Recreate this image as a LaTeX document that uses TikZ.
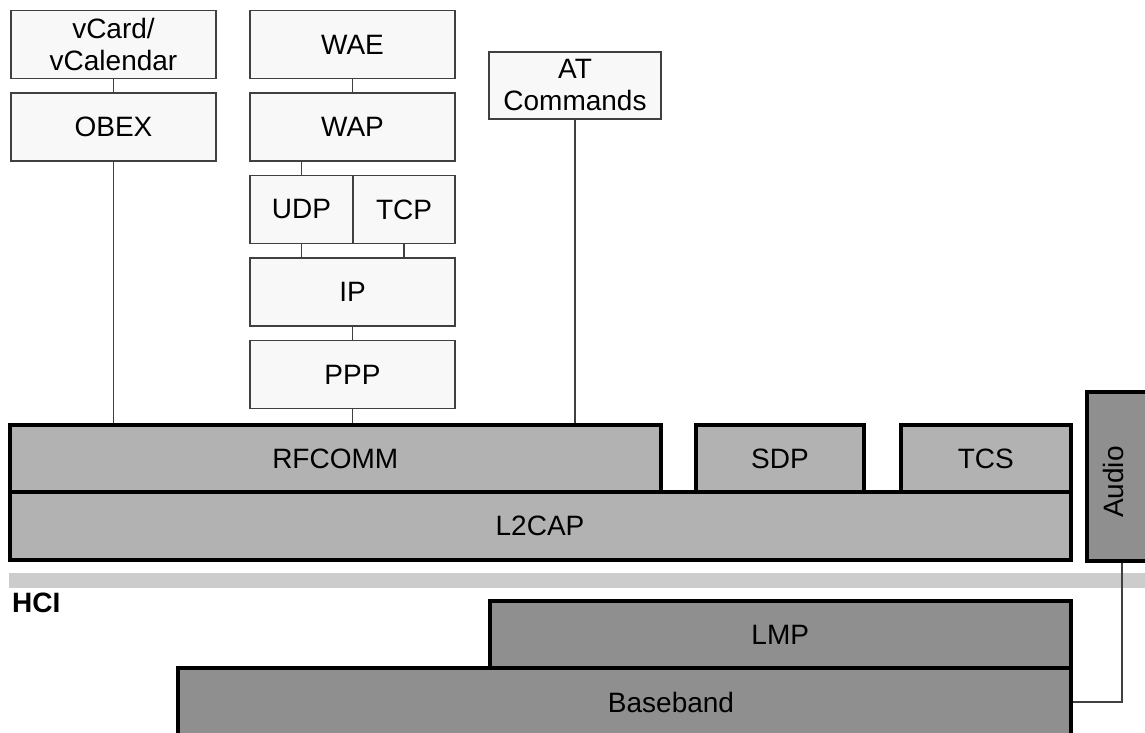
\documentclass[tikz,border=0pt]{standalone}
\usepackage{fontspec}
\setmainfont{Liberation Sans}
\usetikzlibrary{calc}
\definecolor{lightbox}{HTML}{F8F8F8}
\definecolor{midgray}{HTML}{B2B2B2}
\definecolor{deepgray}{HTML}{8F8F8F}
\definecolor{hcibar}{HTML}{CCCCCC}
\definecolor{thinline}{HTML}{404040}
\begin{document}
\begin{tikzpicture}[x=1pt,y=-1pt,
  txt/.style={font=\fontsize{28}{32}\selectfont},
  upper/.style={txt, draw=thinline, line width=1.2pt, fill=lightbox, minimum width=205pt, minimum height=68pt, inner sep=0pt, align=center},
  core/.style={txt, draw=black, line width=4pt, fill=midgray, inner sep=0pt},
  lower/.style={core, fill=deepgray},
  link/.style={draw=thinline, line width=1.1pt}]
\useasboundingbox (0,0) rectangle (1145,733);
\clip (0,0) rectangle (1145,733);

% HCI bar
\fill[hcibar] (9,573) rectangle (1145,588);
\node[txt, font=\fontsize{28}{32}\selectfont\bfseries, anchor=base west, inner sep=0pt] (hci) at (12,612) {HCI};

% upper stack
\node[upper] (vcard) at (113.5,44.5) {vCard/\\vCalendar};
\node[upper] (obex) at (113.5,127) {OBEX};
\node[upper] (wae) at (352.5,44.5) {WAE};
\node[upper] (wap) at (352.5,127) {WAP};
\node[upper, minimum width=103pt] (udp) at (301.5,209.5) {UDP};
\node[upper, minimum width=102pt] (tcp) at (404,209.5) {TCP};
\node[upper] (ip) at (352.5,292) {IP};
\node[upper] (ppp) at (352.5,374.5) {PPP};
\node[upper, minimum width=172pt, minimum height=67pt] (at) at (575,85.5) {AT\\Commands};

% core layers
\node[core, minimum width=651.5pt, minimum height=67pt] (rfcomm) at (335.25,458.5) {RFCOMM};
\node[core, minimum width=1061pt, minimum height=68pt] (l2cap) at (540,526) {L2CAP};
\node[core, minimum width=168pt, minimum height=67pt] (sdp) at (780,458.5) {SDP};
\node[core, minimum width=169.5pt, minimum height=67pt] (tcs) at (985.75,458.5) {TCS};
\node[lower, minimum width=70pt, minimum height=169pt] (audio) at (1122,476.5) {};
\node[txt, rotate=90, inner sep=0pt] (audiotext) at (1113,482) {Audio};
\node[lower, minimum width=580.5pt, minimum height=67pt] (lmp) at (780.25,634.5) {LMP};
\node[lower, minimum width=892.5pt, minimum height=68pt] (baseband) at (624.25,702) {};
\node[txt, inner sep=0pt] (bbtext) at (671,702) {Baseband};

% connectors
\draw[link] (vcard) -- (obex);
\draw[link] (obex.south) -- (obex.south |- rfcomm.north);
\draw[link] (wae) -- (wap);
\draw[link] (udp.north) -- (udp.north |- wap.south);
\draw[link] (udp.south) -- (udp.south |- ip.north);
\draw[link] (tcp.south) -- (tcp.south |- ip.north);
\draw[link] (ip) -- (ppp);
\draw[link] (ppp.south) -- (ppp.south |- rfcomm.north);
\draw[link] (at.south) -- (at.south |- rfcomm.north);
\draw[link] (audio.south) |- (baseband.east);
\end{tikzpicture}
\end{document}
